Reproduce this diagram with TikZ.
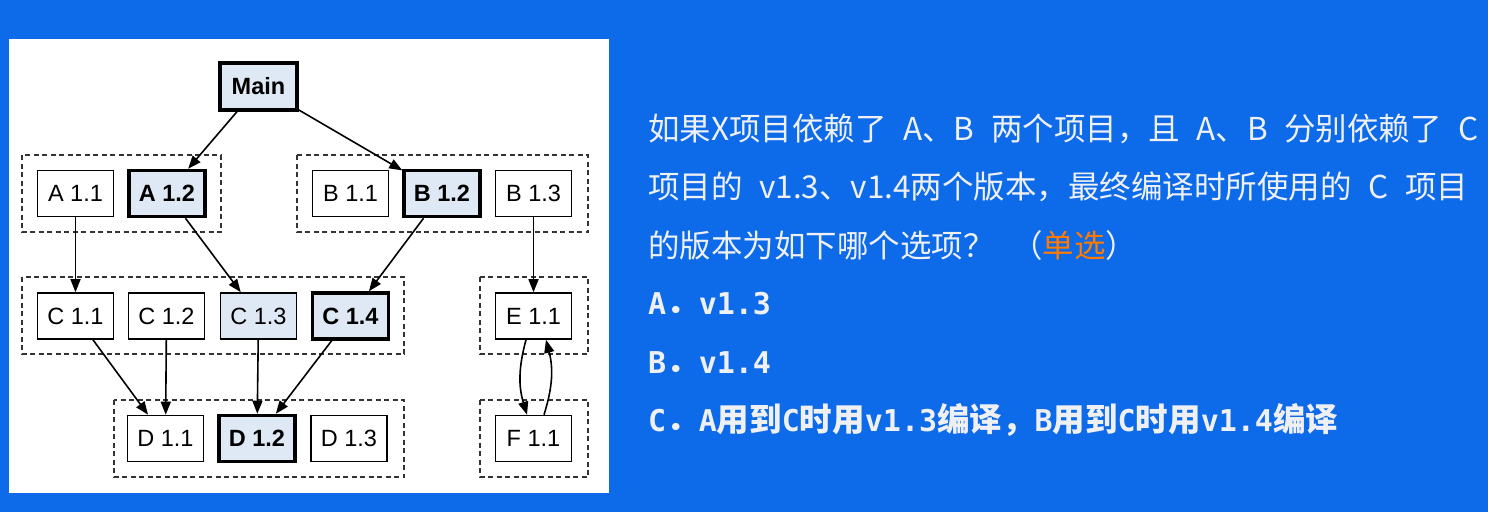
\documentclass[tikz,border=0pt]{standalone}
\usepackage{fontspec}
\usetikzlibrary{arrows.meta}
\newfontfamily\labfont{Liberation Sans}
\newfontfamily\cjkfont{Noto Sans CJK SC}
\newfontfamily\optmono{DejaVu Sans Mono}
\definecolor{pagebg}{RGB}{13,106,233}
\definecolor{hl}{RGB}{223,233,245}
\definecolor{qtext}{RGB}{238,240,243}
\definecolor{tagorange}{RGB}{255,122,0}
% monospace piece of an option line
\newcommand\mo[1]{{\optmono\bfseries\fontsize{30}{34}\selectfont #1}}
% CJK piece of an option line
\newcommand\hz[1]{{\cjkfont\bfseries\fontsize{32.5}{36}\selectfont #1}}
% wide word spaces in the question text
\newcommand\widespaces{\spaceskip=16.5pt\relax}
\begin{document}
\begin{tikzpicture}[x=1pt,y=-1pt,
  ver/.style={draw, line width=1.6pt, minimum width=76pt, minimum height=46pt,
    inner sep=0pt, font=\labfont\fontsize{23.5}{26}\selectfont},
  sel/.style={ver, line width=3.5pt, fill=hl, font=\labfont\bfseries\fontsize{23.5}{26}\selectfont},
  near/.style={ver, fill=hl},
  grp/.style={draw=black!80, line width=1.5pt, dash pattern=on 5pt off 3.5pt},
  dep/.style={-{Triangle[length=13pt,width=10pt]}, line width=1.6pt},
  qline/.style={anchor=base west, inner sep=0pt, text=qtext,
    font=\cjkfont\fontsize{31.5}{36}\selectfont},
  opt/.style={anchor=base west, inner sep=0pt, text=qtext}]
\useasboundingbox (0,0) rectangle (1488,512);
\fill[pagebg] (0,0) rectangle (1488,512);
\fill[white] (9,39) rectangle (609,493);

% version groups
\draw[grp] (22,155) rectangle (221,232);
\draw[grp] (297,155) rectangle (588,232);
\draw[grp] (22,277) rectangle (404,354);
\draw[grp] (480,277) rectangle (588,354);
\draw[grp] (114,400) rectangle (404,477);
\draw[grp] (480,400) rectangle (588,477);

% modules
\node[sel, minimum width=77pt, minimum height=47pt] (main) at (258.5,86.5) {Main};
\node[ver] (a11) at (75.5,193.5) {A 1.1};
\node[sel] (a12) at (167,193.5) {A 1.2};
\node[ver] (b11) at (350.5,193.5) {B 1.1};
\node[sel] (b12) at (442,193.5) {B 1.2};
\node[ver] (b13) at (533.5,193.5) {B 1.3};
\node[ver] (c11) at (75.5,316) {C 1.1};
\node[ver] (c12) at (166.5,316) {C 1.2};
\node[near] (c13) at (258.5,316) {C 1.3};
\node[sel] (c14) at (350.5,316) {C 1.4};
\node[ver] (e11) at (533.5,316) {E 1.1};
\node[ver] (d11) at (165.5,438.5) {D 1.1};
\node[sel] (d12) at (257,438.5) {D 1.2};
\node[ver] (d13) at (349,438.5) {D 1.3};
\node[ver] (f11) at (533.5,438.5) {F 1.1};

% dependencies
\draw[dep] (main) -- (a12);
\draw[dep] (main) -- (b12);
\draw[dep] (a11) -- (c11);
\draw[dep] (a12) -- (c13);
\draw[dep] (b12) -- (c14);
\draw[dep] (b13) -- (e11);
\draw[dep] (c11) -- (d11);
\draw[dep] (c12) -- (d11);
\draw[dep] (c13) -- (d12);
\draw[dep] (c14) -- (d12);
\draw[dep] ([xshift=-7.5pt]e11.south) to[bend right=16] ([xshift=-6.5pt]f11.north);
\draw[dep] ([xshift=10.5pt]f11.north) to[bend right=16] ([xshift=12.5pt]e11.south);

% question
\node[qline] (q1) at (648,140) {\widespaces 如果X项目依赖了 A、B 两个项目，且 A、B 分别依赖了 C};
\node[qline] (q2) at (648,198.5) {\widespaces 项目的 v1.3、v1.4两个版本，最终编译时所使用的 C 项目};
\node[qline] (q3) at (648,257) {\widespaces 的版本为如下哪个选项？ （\textcolor{tagorange}{单选}）};

% answer options
\node[opt] (oa) at (648,314) {\mo{A}\hz{．}\mo{v1.3}};
\node[opt] (ob) at (648,373) {\mo{B}\hz{．}\mo{v1.4}};
\node[opt] (oc) at (648,431) {\mo{C}\hz{．}\mo{A}\hz{用到}\mo{C}\hz{时用}\mo{v1.3}\hz{编译，}\mo{B}\hz{用到}\mo{C}\hz{时用}\mo{v1.4}\hz{编译}};
\end{tikzpicture}
\end{document}
